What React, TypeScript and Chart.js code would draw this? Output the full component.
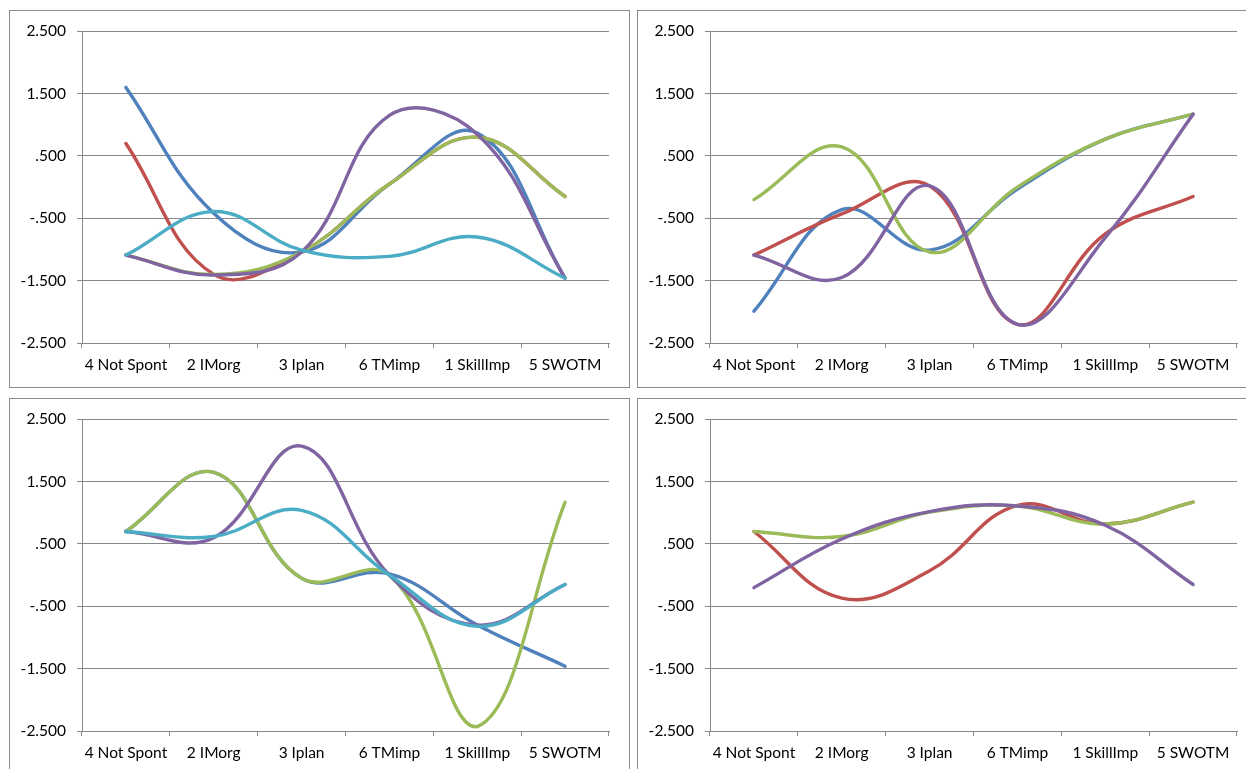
import React, { useEffect, useRef } from 'react';
import { Chart, registerables } from 'chart.js';

Chart.register(...registerables);

// ---------- data ----------
const categories = ['4 Not Spont', '2 IMorg', '3 Iplan', '6 TMimp', '1 SkillImp', '5 SWOTM'];
const yTicks = [-2.5, -1.5, -0.5, 0.5, 1.5, 2.5];

// top-left panel
const tlBlue = [1.6, -0.42, -1.04, 0.05, 0.87, -1.46];
const tlRed = [0.7, -1.4, -1.04, 0.05, 0.8, -0.15];
const tlGreen = [-1.09, -1.4, -1.04, 0.05, 0.8, -0.15];
const tlPurple = [-1.09, -1.41, -1.04, 1.15, 0.85, -1.46];
const tlAqua = [-1.09, -0.39, -1.01, -1.11, -0.8, -1.46];

// top-right panel
const trBlue = [-1.99, -0.36, -1.01, -0.03, 0.77, 1.17];
const trRed = [-1.09, -0.43, 0.02, -2.2, -0.75, -0.15];
const trGreen = [-0.2, 0.645, -1.04, 0.0, 0.77, 1.17];
const trPurple = [-1.09, -1.45, 0.02, -2.2, -0.81, 1.17];

// bottom-left panel
const blBlue = [0.7, 1.65, -0.05, 0.02, -0.8, -1.46];
const blGreen = [0.7, 1.65, -0.05, 0.0, -2.43, 1.17];
const blPurple = [0.7, 0.6, 2.07, 0.0, -0.8, -0.15];
const blAqua = [0.7, 0.62, 1.04, 0.0, -0.82, -0.15];

// bottom-right panel
const brRed = [0.7, -0.37, 0.07, 1.12, 0.82, 1.17];
const brGreen = [0.7, 0.62, 1.01, 1.11, 0.82, 1.17];
const brPurple = [-0.2, 0.58, 1.02, 1.11, 0.8, -0.15];

// ---------- style ----------
const COLORS: Record<string, string> = {
  blue: '#4F81BD',
  red: '#C0504D',
  green: '#9BBB59',
  purple: '#8064A2',
  aqua: '#4BACC6',
};
const SERIES_ORDER = ['blue', 'red', 'green', 'purple', 'aqua'];
const GRID = '#888888';
const FONT = { family: 'Lato, "Open Sans", sans-serif', size: 15.5 };

type PanelSpec = { left: number; top: number; series: Record<string, number[]> };

const panels: PanelSpec[] = [
  { left: 9, top: 10, series: { blue: tlBlue, red: tlRed, green: tlGreen, purple: tlPurple, aqua: tlAqua } },
  { left: 637, top: 10, series: { blue: trBlue, red: trRed, green: trGreen, purple: trPurple } },
  { left: 9, top: 398, series: { blue: blBlue, green: blGreen, purple: blPurple, aqua: blAqua } },
  { left: 637, top: 398, series: { red: brRed, green: brGreen, purple: brPurple } },
];

const fmt = (v: number) => {
  const s = Math.abs(v).toFixed(3).replace(/^0/, '');
  return (v < 0 ? '-' : '') + s;
};

const PANEL_W = 621;
const PANEL_H = 378;

function Panel({ spec }: { spec: PanelSpec }) {
  const ref = useRef<HTMLCanvasElement | null>(null);
  useEffect(() => {
    if (!ref.current) return;
    const keys = SERIES_ORDER.filter((k) => spec.series[k]);
    const datasets = keys.map((k) => ({
      label: k,
      data: spec.series[k],
      borderColor: COLORS[k],
      backgroundColor: COLORS[k],
      borderWidth: 3.4,
      tension: 0.4,
      pointRadius: 0,
      pointHoverRadius: 0,
      fill: false,
      borderCapStyle: 'round' as const,
      borderJoinStyle: 'round' as const,
      order: SERIES_ORDER.length - SERIES_ORDER.indexOf(k),
    }));
    const chart = new Chart(ref.current, {
      type: 'line',
      data: { labels: categories, datasets },
      options: {
        animation: false,
        responsive: false,
        devicePixelRatio: 1,
        events: [],
        layout: { padding: { top: 19, right: 20, bottom: 0, left: 0 } },
        plugins: { legend: { display: false }, tooltip: { enabled: false } },
        scales: {
          x: {
            offset: true,
            afterFit: (s: any) => {
              s.height = 44;
            },
            grid: {
              display: true,
              drawOnChartArea: false,
              drawTicks: true,
              tickLength: 5,
              color: GRID,
              offset: true,
            },
            border: { color: GRID, width: 1 },
            ticks: { color: '#000', font: FONT, padding: 8, maxRotation: 0, minRotation: 0, autoSkip: false },
          },
          y: {
            min: -2.5,
            max: 2.5,
            afterFit: (s: any) => {
              s.width = 72;
            },
            afterBuildTicks: (s: any) => {
              s.ticks = yTicks.map((v) => ({ value: v }));
            },
            grid: { color: GRID, tickLength: 5, drawTicks: true },
            border: { color: GRID, width: 1 },
            ticks: {
              color: '#000',
              font: FONT,
              padding: 11,
              callback: (v: any) => fmt(Number(v)),
            },
          },
        },
      },
    });
    return () => chart.destroy();
  }, [spec]);

  return (
    <div
      style={{
        position: 'absolute',
        left: spec.left,
        top: spec.top,
        width: PANEL_W,
        height: PANEL_H,
        boxSizing: 'border-box',
        border: '1px solid #8c8c8c',
        background: '#fff',
      }}
    >
      <canvas ref={ref} width={PANEL_W - 2} height={PANEL_H - 2} style={{ display: 'block' }} />
    </div>
  );
}

export default function App() {
  return (
    <div
      style={{
        position: 'fixed',
        left: 0,
        top: 0,
        width: 1246,
        height: 769,
        overflow: 'hidden',
        background: '#fff',
      }}
    >
      {panels.map((p, i) => (
        <Panel key={i} spec={p} />
      ))}
    </div>
  );
}
